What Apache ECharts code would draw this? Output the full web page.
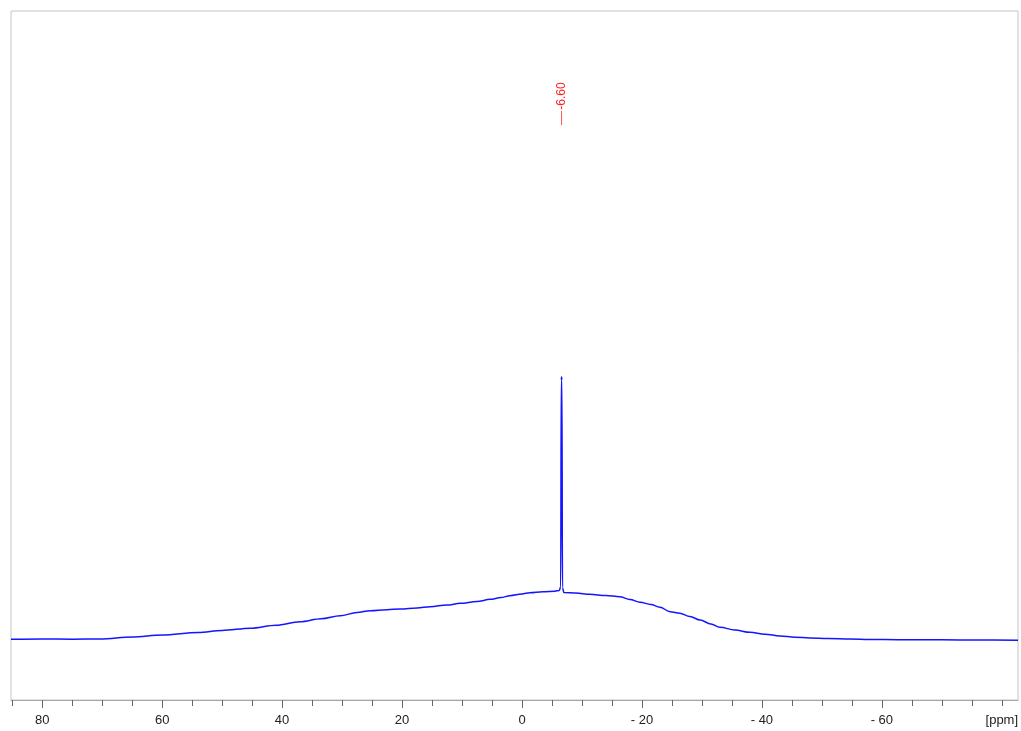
<!DOCTYPE html>
<html>
<head>
<meta charset="utf-8">
<script src="https://cdn.jsdelivr.net/npm/echarts@6/dist/echarts.min.js"></script>
<style>html,body{margin:0;padding:0;background:#fff;}#c{width:1021px;height:731px;}</style>
</head>
<body>
<div id="c"></div>
<script>
// chemical shift (ppm) and intensity (arbitrary units)
var ppm = [85.2, 80, 75, 70.3, 65, 60, 54, 50, 45.3, 41, 37, 33.5, 30.3, 27.5, 25.3, 22.5, 20.3, 17.5, 15.3, 12.5, 10.3, 7.5, 5.3, 3.5, 2, 0, -1.3, -3.5, -5.5, -6.2, -6.45, -6.55, -6.60, -6.65, -6.75, -7.0, -9, -11.3, -14, -16.3, -18, -19.7, -21.5, -23, -24.7, -26.3, -28, -29.7, -31.5, -33, -35.5, -38, -40.5, -43, -45.5, -48, -51, -54.7, -58, -63, -70, -76, -82.7];
var intensity = [60.7, 61, 60.8, 61, 63, 65, 67.5, 69.5, 71.8, 74.8, 78.3, 81.3, 84.3, 87.5, 89.3, 90.3, 91, 92, 93.3, 95, 96.7, 98.5, 100.7, 102.5, 104.3, 106, 107.3, 108.3, 108.8, 109.5, 113, 320, 323, 320, 112, 107.5, 107, 105.7, 104.5, 103.3, 100.5, 97.7, 95.5, 92.7, 88.3, 86.7, 83.5, 80, 76, 72.7, 70, 67.7, 65.8, 64, 62.8, 62, 61.4, 61, 60.6, 60.3, 60.2, 60, 59.7];
var majorTicks = [80, 60, 40, 20, 0, -20, -40, -60];
var minorTicks = [85, 75, 70, 65, 55, 50, 45, 35, 30, 25, 15, 10, 5, -5, -10, -15, -25, -30, -35, -45, -50, -55, -65, -70, -75, -80];
var labelValues = [80, 60, 40, 20, 0, -20, -40, -60, -80];
var unitLabel = '[ppm]';
var peakShift = -6.60;
var peakLabel = '-6.60';
var peakMarkerSpan = [575, 589];

var data = ppm.map(function (p, i) { return [p, intensity[i]]; });
var markerData = peakMarkerSpan.map(function (v) { return [peakShift, v]; });
var font = 'Liberation Sans, Arial, sans-serif';

var chart = echarts.init(document.getElementById('c'), null, {renderer: 'canvas'});
chart.setOption({
  animation: false,
  backgroundColor: '#ffffff',
  grid: {left: 11, right: 3, top: 11, bottom: 31, show: true, borderColor: '#c4c4c4', borderWidth: 1, backgroundColor: 'transparent', containLabel: false, outerBoundsMode: 'none'},
  xAxis: [
    {
      type: 'value', inverse: true, min: -82.7, max: 85.2,
      axisLine: {show: true, lineStyle: {color: '#a8a8a8', width: 1}},
      axisTick: {show: true, customValues: majorTicks, length: 8, lineStyle: {color: '#666', width: 1}},
      axisLabel: {
        show: true, customValues: labelValues, margin: 14,
        color: '#222', fontSize: 13, fontFamily: font,
        formatter: function (v) {
          if (v === -80) return unitLabel;
          return v < 0 ? '- ' + (-v) : String(v);
        }
      },
      splitLine: {show: false}
    },
    {
      type: 'value', inverse: true, min: -82.7, max: 85.2, position: 'bottom',
      axisLine: {show: false},
      axisTick: {show: true, customValues: minorTicks, length: 6, lineStyle: {color: '#666', width: 1}},
      axisLabel: {show: false},
      splitLine: {show: false}
    }
  ],
  yAxis: {type: 'value', min: 0, max: 689, show: false, splitLine: {show: false}},
  series: [{
    type: 'line',
    xAxisIndex: 0,
    data: data,
    showSymbol: false,
    symbol: 'none',
    smooth: 0.35,
    smoothMonotone: 'x',
    lineStyle: {color: '#1414ff', width: 1.5},
    markPoint: {
      symbol: 'rect',
      symbolSize: [1, 1],
      itemStyle: {color: 'rgba(0,0,0,0)'},
      data: [{coord: [peakShift, 604], value: peakLabel}],
      label: {show: true, position: 'inside', formatter: peakLabel, rotate: 90, color: '#ff2020', fontSize: 12, fontFamily: font}
    }
  }, {
    type: 'line',
    xAxisIndex: 0,
    data: markerData,
    showSymbol: false,
    symbol: 'none',
    silent: true,
    lineStyle: {color: '#ff5050', width: 1}
  }]
});
</script>
</body>
</html>
